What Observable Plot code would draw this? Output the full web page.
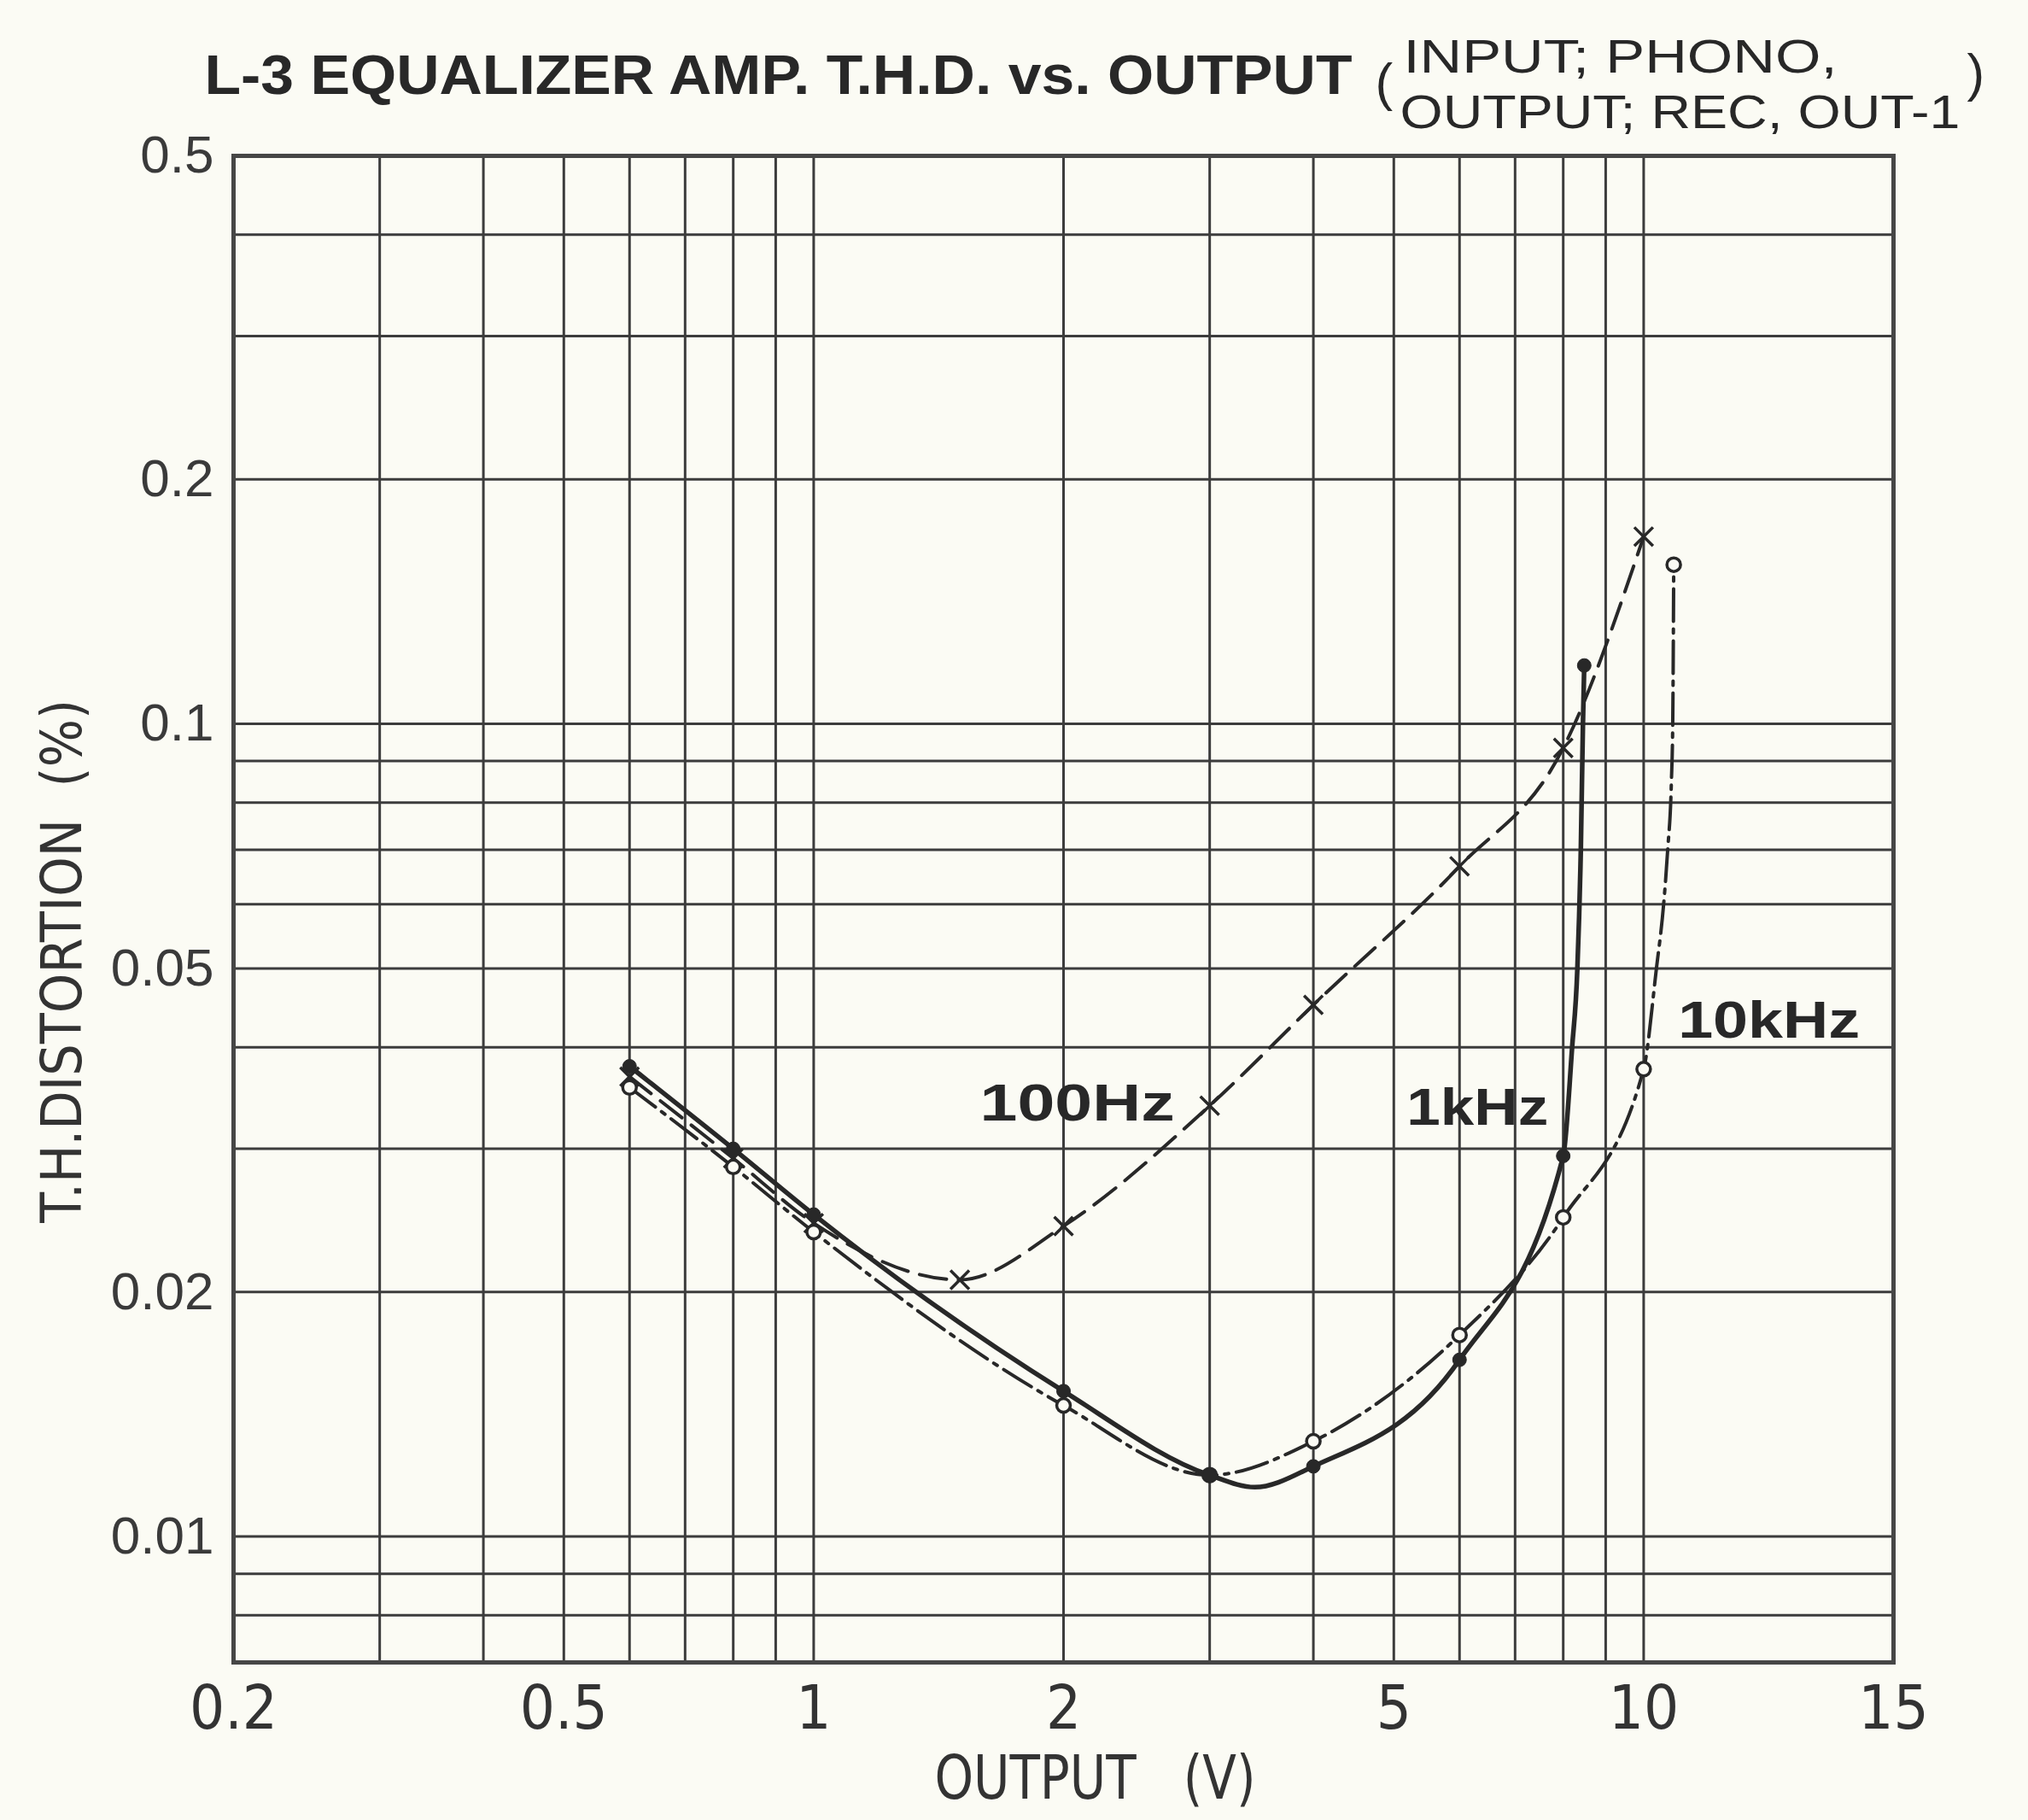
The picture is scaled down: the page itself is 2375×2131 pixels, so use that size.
<!DOCTYPE html>
<html>
<head>
<meta charset="utf-8">
<script src="https://cdn.jsdelivr.net/npm/d3@7"></script>
<script src="https://cdn.jsdelivr.net/npm/@observablehq/plot@0.6"></script>
<style>
html, body { margin: 0; padding: 0; background: #fbfbf4; }
svg { display: block; }
</style>
</head>
<body>
<div id="chart"></div>
<script>
// ---- tick labels & grid ----
const xTickValues = [0.2, 0.5, 1, 2, 5, 10, 20];
const xTickLabels = ["0.2", "0.5", "1", "2", "5", "10", "15"];
const yTickValues = [0.5, 0.2, 0.1, 0.05, 0.02, 0.01];
const yTickLabels = ["0.5", "0.2", "0.1", "0.05", "0.02", "0.01"];
const xGrid = [0.3, 0.4, 0.5, 0.6, 0.7, 0.8, 0.9, 1, 2, 3, 4, 5, 6, 7, 8, 9, 10];
const yGrid = [0.4, 0.3, 0.2, 0.1, 0.09, 0.08, 0.07, 0.06, 0.05, 0.04, 0.03, 0.02, 0.01, 0.009, 0.008];

// ---- series: 100Hz (dashed, x markers) ----
const out100 = [0.6, 0.8, 1, 1.5, 2, 3, 4, 6, 8, 10];
const thd100 = [0.0368, 0.0292, 0.0243, 0.0207, 0.0241, 0.0339, 0.0451, 0.0668, 0.0934, 0.170];
const mark100 = [1, 1, 1, 1, 1, 1, 1, 1, 1, 1];

// ---- series: 1kHz (solid, filled dots) ----
const out1k = [0.6, 0.8, 1, 2, 3, 3.4, 4, 6, 8, 8.2, 8.32, 8.4, 8.45, 8.48];
const thd1k = [0.0379, 0.0300, 0.0249, 0.0151, 0.0119, 0.0115, 0.0122, 0.0165, 0.0294, 0.040, 0.050, 0.070, 0.100, 0.118];
const mark1k = [1, 1, 1, 1, 1, 0, 1, 1, 1, 0, 0, 0, 0, 1];

// ---- series: 10kHz (dash-dot, open circles) ----
const out10k = [0.6, 0.8, 1, 2, 3, 4, 6, 8, 10, 10.36, 10.57, 10.69, 10.8, 10.84, 10.87];
const thd10k = [0.0357, 0.0285, 0.0237, 0.0145, 0.0119, 0.0131, 0.0177, 0.0247, 0.0376, 0.050, 0.060, 0.070, 0.085, 0.100, 0.157];
const mark10k = [1, 1, 1, 1, 1, 1, 1, 1, 1, 0, 0, 0, 0, 0, 1];

// ---- series labels ----
const seriesNames = ["100Hz", "1kHz", "10kHz"];
const labelX = [1.586, 5.18, 11.0];
const labelY = [0.0325, 0.0321, 0.0411];

// ---- texts ----
const titleMain = "L-3 EQUALIZER AMP. T.H.D. vs. OUTPUT";
const titleOpen = "(";
const titleSub1 = "INPUT; PHONO,";
const titleSub2 = "OUTPUT; REC, OUT-1";
const titleClose = ")";
const xTitle = "OUTPUT\u00a0\u00a0\u00a0(V)";
const yTitle = "T.H.DISTORTION\u00a0\u00a0(%)";

const rows = (xs, ys, ms) => xs.map((x, i) => ({x, y: ys[i], m: ms[i]}));
const rows100 = rows(out100, thd100, mark100);
const rows1k = rows(out1k, thd1k, mark1k);
const rows10k = rows(out10k, thd10k, mark10k);
const labels = seriesNames.map((name, i) => ({name, x: labelX[i], y: labelY[i]}));

const ink = "#282828";
const gridColor = "#3c3c3c";
const bg = "#fbfbf4";
const sans = "'Liberation Sans', Arial, Helvetica, sans-serif";
const narrow = "'Liberation Sans Narrow', 'Arial Narrow', 'DejaVu Sans Condensed', 'Liberation Sans', sans-serif";

const chart = Plot.plot({
  width: 2375,
  height: 2131,
  marginLeft: 273,
  marginRight: 158,
  marginTop: 182,
  marginBottom: 185,
  style: {background: bg, color: ink, fontFamily: sans},
  x: {type: "log", domain: [0.2, 20]},
  y: {type: "log", domain: [0.007, 0.5]},
  marks: [
    Plot.ruleX(xGrid, {stroke: gridColor, strokeWidth: 3}),
    Plot.ruleY(yGrid, {stroke: gridColor, strokeWidth: 3}),
    Plot.frame({stroke: "#464646", strokeWidth: 5}),
    Plot.axisX({
      ticks: xTickValues,
      tickFormat: d => xTickLabels[xTickValues.indexOf(d)],
      tickSize: 0, tickPadding: 26, fontSize: 72, fontFamily: narrow, label: null, fill: "#333"
    }),
    Plot.axisY({
      ticks: yTickValues,
      tickFormat: d => yTickLabels[yTickValues.indexOf(d)],
      tickSize: 0, tickPadding: 23, fontSize: 62, fontFamily: sans, label: null, fill: "#3a3a3a"
    }),
    Plot.line(rows100, {x: "x", y: "y", curve: "monotone-x", stroke: ink, strokeWidth: 4, strokeDasharray: "32,14"}),
    Plot.line(rows10k, {x: "x", y: "y", curve: "monotone-x", stroke: ink, strokeWidth: 4, strokeDasharray: "38,9,5,9"}),
    Plot.line(rows1k, {x: "x", y: "y", curve: "monotone-x", stroke: ink, strokeWidth: 5.5}),
    Plot.dot(rows100.filter(d => d.m), {x: "x", y: "y", symbol: "times", r: 10, stroke: ink, strokeWidth: 3.5}),
    Plot.dot(rows10k.filter(d => d.m), {x: "x", y: "y", r: 8, fill: bg, stroke: ink, strokeWidth: 3.5}),
    Plot.dot(rows1k.filter(d => d.m), {x: "x", y: "y", r: 8, fill: ink, stroke: ink, strokeWidth: 1}),
    Plot.text(labels, {x: "x", y: "y", text: "name", textAnchor: "start", lineAnchor: "bottom", fontSize: 62, fontWeight: "bold", fill: ink}),
    Plot.text([titleMain], {text: d => d, frameAnchor: "top-left", dx: -34, dy: -73, textAnchor: "start", lineAnchor: "bottom", fontSize: 64, fontWeight: "bold", fill: ink}),
    Plot.text([titleOpen], {text: d => d, frameAnchor: "top-left", dx: 1337, dy: -66, textAnchor: "start", lineAnchor: "bottom", fontSize: 62, fill: ink}),
    Plot.text([titleSub1], {text: d => d, frameAnchor: "top-left", dx: 1370, dy: -98, textAnchor: "start", lineAnchor: "bottom", fontSize: 56, fill: ink}),
    Plot.text([titleSub2], {text: d => d, frameAnchor: "top-left", dx: 1366, dy: -33, textAnchor: "start", lineAnchor: "bottom", fontSize: 56, fill: ink}),
    Plot.text([titleClose], {text: d => d, frameAnchor: "top-left", dx: 2030, dy: -77, textAnchor: "start", lineAnchor: "bottom", fontSize: 62, fill: ink}),
    Plot.text([xTitle], {text: d => d, frameAnchor: "bottom", dx: 37, dy: 159, textAnchor: "middle", lineAnchor: "bottom", fontSize: 72, fontFamily: narrow, fill: "#333"}),
    Plot.text([yTitle], {text: d => d, frameAnchor: "left", dx: -200, dy: 61, rotate: -90, textAnchor: "middle", lineAnchor: "middle", fontSize: 66, fontFamily: narrow, fill: "#333"})
  ]
});

// fit text widths to the scanned original
const fit = new Map([
  [titleMain, 1344], [titleSub1, 508], [titleSub2, 656],
  [xTitle, 376], [yTitle, 613],
  ["100Hz", 228], ["1kHz", 166], ["10kHz", 213]
]);
d3.select(chart).selectAll("text").each(function () {
  const t = this.textContent;
  if (fit.has(t)) {
    this.setAttribute("textLength", fit.get(t));
    this.setAttribute("lengthAdjust", "spacingAndGlyphs");
  }
});

document.getElementById("chart").appendChild(chart);
</script>
</body>
</html>
